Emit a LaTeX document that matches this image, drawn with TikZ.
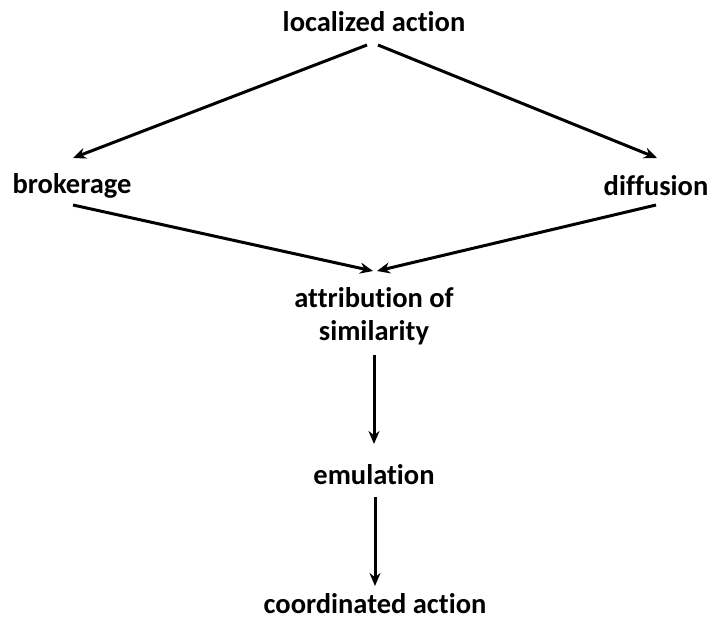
\documentclass[tikz,border=0pt]{standalone}
\usepackage{fontspec}
\setmainfont[Ligatures={NoCommon}]{Carlito}
\usetikzlibrary{arrows.meta}
\begin{document}
\begin{tikzpicture}[x=1pt,y=-1pt,
  lbl/.style={font=\bfseries\fontsize{28.5}{33}\selectfont, inner sep=0pt, align=center},
  arr/.style={line width=3pt, -{Stealth[length=13pt,width=11pt]}}]
\useasboundingbox (0,0) rectangle (709,621);
\node[lbl] (loc) at (374,22) {localized action};
\node[lbl] (bro) at (72,186) {brokerage};
\node[lbl] (dif) at (656,186) {diffusion};
\node[lbl] (att) at (374,316) {attribution of\\similarity};
\node[lbl] (emu) at (374,475) {emulation};
\node[lbl] (coo) at (375,604) {coordinated action};
\coordinate (l1) at (367,45);
\coordinate (l2) at (378,45);
\coordinate (b1) at (73,205);
\coordinate (d1) at (656,205);
\coordinate (a1) at (373,271);
\coordinate (a2) at (377,271);
\coordinate (bt) at (73,158);
\coordinate (dt) at (657,158);
\coordinate (v1) at (374,355);
\coordinate (v2) at (374,444);
\coordinate (w1) at (375,497);
\coordinate (w2) at (375,586);
\draw[arr] (l1) -- (bt);
\draw[arr] (l2) -- (dt);
\draw[arr] (b1) -- (a1);
\draw[arr] (d1) -- (a2);
\draw[arr] (v1) -- (v2);
\draw[arr] (w1) -- (w2);
\end{tikzpicture}
\end{document}
